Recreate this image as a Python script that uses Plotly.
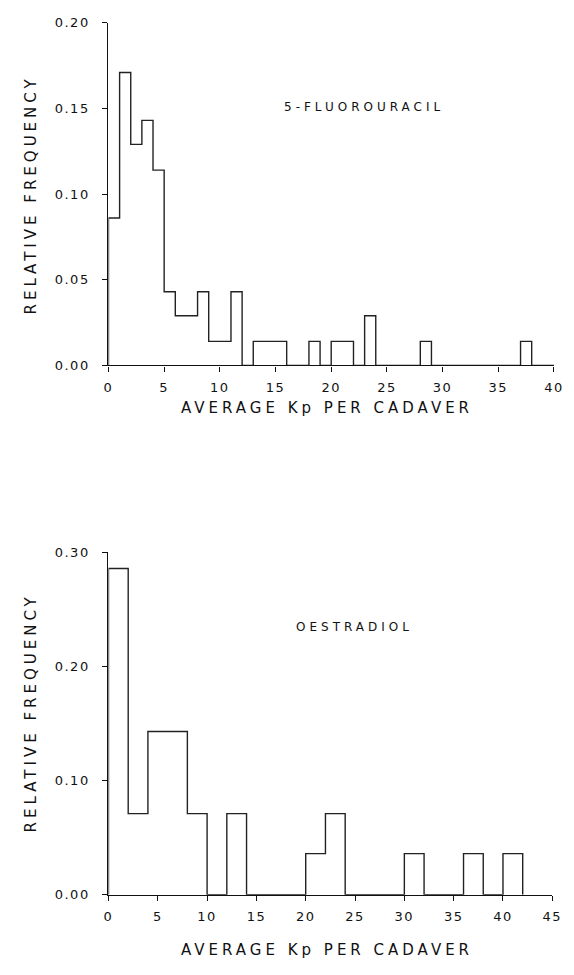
import plotly.graph_objects as go

W, H = 574, 975

# ---- Data: 5-fluorouracil (bin width 1, 0..40) ----
fu_edges = list(range(0, 41))
fu_freq = [0.086, 0.171, 0.129, 0.143, 0.114, 0.043, 0.029, 0.029, 0.043, 0.014,
           0.014, 0.043, 0.000, 0.014, 0.014, 0.014, 0.000, 0.000, 0.014, 0.000,
           0.014, 0.014, 0.000, 0.029, 0.000, 0.000, 0.000, 0.000, 0.014, 0.000,
           0.000, 0.000, 0.000, 0.000, 0.000, 0.000, 0.000, 0.014, 0.000, 0.000]

# ---- Data: oestradiol (bin width 2, 0..42) ----
oe_edges = list(range(0, 44, 2))
oe_freq = [0.286, 0.071, 0.143, 0.143, 0.071, 0.000, 0.071, 0.000, 0.000, 0.000,
           0.036, 0.071, 0.000, 0.000, 0.000, 0.036, 0.000, 0.000, 0.036, 0.000,
           0.036]

top_ticks_x = [0, 5, 10, 15, 20, 25, 30, 35, 40]
top_ticks_y = [0.00, 0.05, 0.10, 0.15, 0.20]
bot_ticks_x = [0, 5, 10, 15, 20, 25, 30, 35, 40, 45]
bot_ticks_y = [0.00, 0.10, 0.20, 0.30]


def step_xy(edges, freq):
    xs = [edges[0]] + edges[:len(freq)] + [edges[len(freq)]]
    ys = [0.0] + freq + [0.0]
    return xs, ys


def px(x):
    return x / W


def py(y):
    return 1 - y / H


fig = go.Figure()
x1, y1 = step_xy(fu_edges, fu_freq)
fig.add_trace(go.Scatter(x=x1, y=y1, mode="lines", line=dict(shape="hv", color="#222", width=1.4),
                         xaxis="x", yaxis="y", showlegend=False, hoverinfo="skip"))
x2, y2 = step_xy(oe_edges, oe_freq)
fig.add_trace(go.Scatter(x=x2, y=y2, mode="lines", line=dict(shape="hv", color="#222", width=1.4),
                         xaxis="x2", yaxis="y2", showlegend=False, hoverinfo="skip"))

tickfont = dict(family="DejaVu Sans", size=13, color="#111")
axis_common = dict(showline=True, linecolor="#111", linewidth=1.4, showgrid=False, zeroline=False,
                   ticks="outside", ticklen=5, tickwidth=1.2, tickcolor="#111", tickfont=tickfont,
                   fixedrange=True)
xstyle = dict(ticklabelstandoff=5, **axis_common)
ystyle = dict(ticklabelstandoff=10, tickformat=".2f", **axis_common)

fig.update_layout(
    width=W, height=H,
    margin=dict(l=0, r=0, t=0, b=0),
    paper_bgcolor="white", plot_bgcolor="white",
    xaxis=dict(domain=[px(106.7), px(561.7)], range=[0, 40], anchor="y",
               tickmode="array", tickvals=top_ticks_x, **xstyle),
    yaxis=dict(domain=[py(364), py(16)], range=[0, 0.20], anchor="x",
               tickmode="array", tickvals=top_ticks_y, **ystyle),
    xaxis2=dict(domain=[px(106.7), px(560)], range=[0, 45], anchor="y2",
                tickmode="array", tickvals=bot_ticks_x, **xstyle),
    yaxis2=dict(domain=[py(901.5), py(554)], range=[0, 0.30], anchor="x2",
                tickmode="array", tickvals=bot_ticks_y, **ystyle),
)

title_font = dict(family="DejaVu Sans", size=15, color="#111")
label_font = dict(family="DejaVu Sans", size=12, color="#111")
annos = [
    dict(text="AVERAGE Kp PER CADAVER", x=px(330), y=py(407), font=title_font),
    dict(text="AVERAGE Kp PER CADAVER", x=px(330), y=py(958), font=title_font),
    dict(text="RELATIVE FREQUENCY", x=px(28), y=py(190), font=title_font, textangle=-90),
    dict(text="RELATIVE FREQUENCY", x=px(28), y=py(716), font=title_font, textangle=-90),
    dict(text="5-FLUOROURACIL", x=px(368), y=py(102), font=label_font),
    dict(text="OESTRADIOL", x=px(358), y=py(630), font=label_font),
]
for a in annos:
    fig.add_annotation(xref="paper", yref="paper", showarrow=False, xanchor="center", yanchor="middle", **a)

# widen letter spacing to mimic the plotter lettering of the original figure
css = (".annotation-text{letter-spacing:4px}"
       ".xtick text,.ytick text,.x2tick text,.y2tick text{letter-spacing:1.5px}")
post = ("var s=document.createElement('style');s.textContent='" + css + "';"
        "document.head.appendChild(s);")

fig.write_html("out.html", post_script=post)
